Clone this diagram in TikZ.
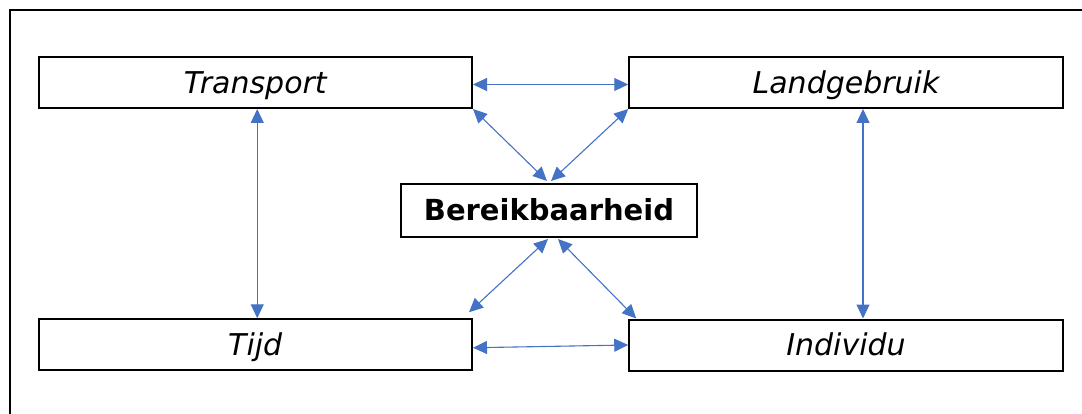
\documentclass[tikz,border=0pt]{standalone}
\usepackage{fontspec}
\setmainfont{DejaVu Sans}
\usetikzlibrary{arrows.meta}
\definecolor{arrowblue}{HTML}{4472C4}
\tikzset{
  box/.style={draw=black, line width=2pt, rectangle, inner sep=0pt, minimum width=433.5pt, minimum height=51pt, text height=21.4pt, text depth=0pt, font=\fontsize{30}{34}\selectfont\itshape},
  cbox/.style={draw=black, line width=2pt, rectangle, inner sep=0pt, minimum width=296pt, minimum height=53pt, text height=20.4pt, text depth=0pt, font=\fontsize{29}{33}\selectfont\bfseries},
  link/.style={draw=arrowblue, line width=1.1pt, {Triangle[length=14pt,width=13pt]}-{Triangle[length=14pt,width=13pt]}}
}
\begin{document}
\begin{tikzpicture}[x=1pt,y=-1pt]
\useasboundingbox (0,0) rectangle (1082,414);
\draw[line width=2pt] (10,414) -- (10,10) -- (1082,10);
\node[box] (T) at (255.25,82.5) {Transport};
\node[box] (L) at (846,82.5) {Landgebruik};
\node[cbox] (B) at (549,210.5) {Bereikbaarheid};
\node[box] (Tj) at (255.25,344.75) {Tijd};
\node[box] (I) at (846,345) {Individu};
\draw[link] ([yshift=-2pt]T.east) -- ([yshift=-2pt]L.west);
\draw[link] (T.south east) -- ([xshift=-2pt,yshift=2pt]B.north);
\draw[link] (L.south west) -- ([xshift=2pt,yshift=2pt]B.north);
\draw[link] ([xshift=-1pt,yshift=-1pt]B.south) -- ([xshift=-4pt,yshift=6pt]Tj.north east);
\draw[link] ([xshift=9pt,yshift=-1pt]B.south) -- ([xshift=8pt]I.north west);
\draw[link] ([yshift=-3pt]Tj.east) -- (I.west);
\draw[link] ([xshift=2pt]T.south) -- ([xshift=2pt]Tj.north);
\draw[link] ([xshift=17pt]L.south) -- ([xshift=17pt]I.north);
\end{tikzpicture}
\end{document}
